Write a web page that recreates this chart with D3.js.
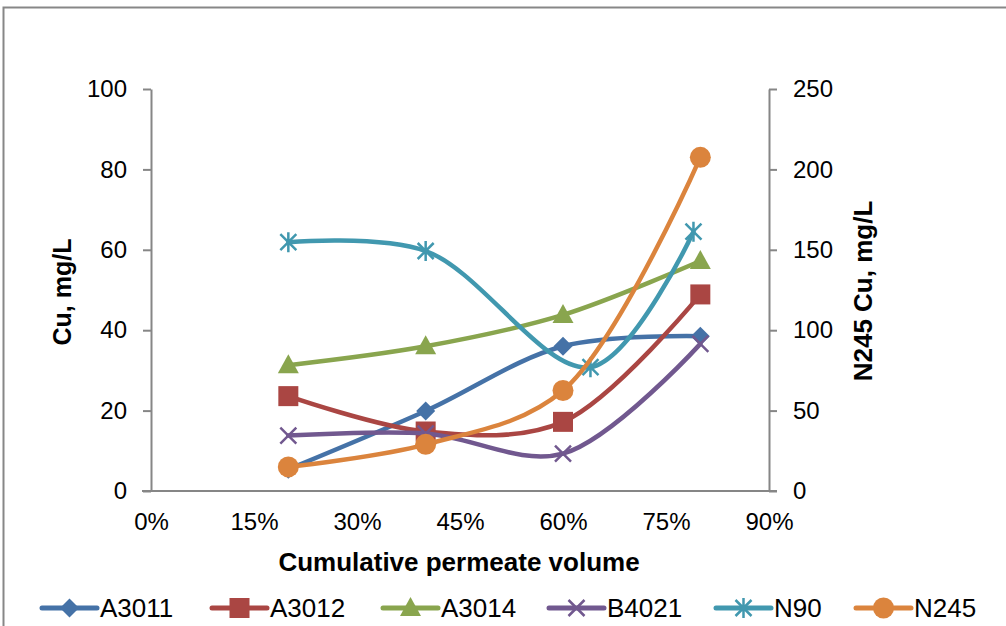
<!DOCTYPE html>
<html><head><meta charset="utf-8">
<script src="https://cdn.jsdelivr.net/npm/d3@7"></script>
<style>body{margin:0;background:#fff}svg{display:block;font-family:"Liberation Sans",Arial,sans-serif}</style>
</head><body><svg id="c" width="1006" height="626"></svg>
<script>
const xTicks = [0, 15, 30, 45, 60, 75, 90];
const yLeftTicks = [0, 20, 40, 60, 80, 100];
const yRightTicks = [0, 50, 100, 150, 200, 250];
const seriesNames = ["A3011", "A3012", "A3014", "B4021", "N90", "N245"];
const xStd = [20, 40, 60, 80];
const xN90 = [20, 40, 64, 79];
const A3011 = [5.4, 19.9, 36.0, 38.5];
const A3012 = [23.6, 14.8, 17.2, 48.9];
const A3014 = [31.3, 36.0, 43.8, 57.2];
const B4021 = [13.8, 14.3, 9.3, 36.6];
const N90 = [61.9, 59.7, 30.8, 64.5];
const N245 = [15.0, 29.0, 62.5, 207.5];

const colors = ["#4572A7", "#AA4643", "#89A54E", "#71588F", "#4198AF", "#DB843D"];
const markers = ["diamond", "square", "triangle", "x", "star", "circle"];
const series = [
  {name: "A3011", xs: xStd, ys: A3011, axis: "L"},
  {name: "A3012", xs: xStd, ys: A3012, axis: "L"},
  {name: "A3014", xs: xStd, ys: A3014, axis: "L"},
  {name: "B4021", xs: xStd, ys: B4021, axis: "L"},
  {name: "N90", xs: xN90, ys: N90, axis: "L"},
  {name: "N245", xs: xStd, ys: N245, axis: "R"}
];

const svg = d3.select("#c");
const L = 151, R = 769, T = 89, B = 491;
const x = d3.scaleLinear().domain([0, 90]).range([L, R]);
const yL = d3.scaleLinear().domain([0, 100]).range([B, T]);
const yR = d3.scaleLinear().domain([0, 250]).range([B, T]);
const axisCol = "#868686";
const FONT = '"Liberation Sans",Arial,sans-serif';

// outer border
svg.append("rect").attr("x", 3.5).attr("y", 7.5).attr("width", 1010).attr("height", 630)
  .attr("fill", "none").attr("stroke", "#878787").attr("stroke-width", 2);

// left axis
const gL = svg.append("g").attr("transform", `translate(${L},0)`)
  .call(d3.axisLeft(yL).tickValues(yLeftTicks).tickSize(8).tickPadding(16).tickSizeOuter(0));
// right axis
const gR = svg.append("g").attr("transform", `translate(${R},0)`)
  .call(d3.axisRight(yR).tickValues(yRightTicks).tickSize(8).tickPadding(16).tickSizeOuter(0));
// bottom axis
const gB = svg.append("g").attr("transform", `translate(0,${B})`)
  .call(d3.axisBottom(x).tickValues(xTicks).tickSize(0).tickPadding(22).tickFormat(d => d + "%"));
[gL, gR, gB].forEach(g => {
  g.selectAll(".domain").attr("stroke", axisCol).attr("stroke-width", 2);
  g.selectAll(".tick line").attr("stroke", axisCol).attr("stroke-width", 2);
  g.selectAll("text").attr("fill", "#000").style("font-size", "24px").style("font-family", FONT);
});
gB.select(".domain").attr("d", `M${L - 9},0H${R + 8}`);

// titles
svg.append("text").attr("x", 459).attr("y", 571).attr("text-anchor", "middle")
  .style("font-size", "26px").style("font-weight", "bold").text("Cumulative permeate volume");
svg.append("text").attr("transform", "translate(71,292) rotate(-90)").attr("text-anchor", "middle")
  .style("font-size", "25px").style("font-weight", "bold").text("Cu, mg/L");
svg.append("text").attr("transform", "translate(872,291) rotate(-90)").attr("text-anchor", "middle")
  .style("font-size", "26px").style("font-weight", "bold").text("N245 Cu, mg/L");

function drawMarker(g, type, cx, cy, col) {
  if (type === "diamond") {
    g.append("path").attr("d", `M${cx},${cy - 9.5}L${cx + 9.5},${cy}L${cx},${cy + 9.5}L${cx - 9.5},${cy}Z`).attr("fill", col);
  } else if (type === "square") {
    g.append("rect").attr("x", cx - 10).attr("y", cy - 10).attr("width", 20).attr("height", 20).attr("fill", col);
  } else if (type === "triangle") {
    g.append("path").attr("d", `M${cx},${cy - 11}L${cx + 10.5},${cy + 8}L${cx - 10.5},${cy + 8}Z`).attr("fill", col);
  } else if (type === "circle") {
    g.append("circle").attr("cx", cx).attr("cy", cy).attr("r", 10.5).attr("fill", col);
  } else if (type === "x") {
    g.append("path").attr("d", `M${cx - 8},${cy - 8}L${cx + 8},${cy + 8}M${cx - 8},${cy + 8}L${cx + 8},${cy - 8}`)
      .attr("stroke", col).attr("stroke-width", 2.5).attr("fill", "none");
  } else if (type === "star") {
    g.append("path").attr("d", `M${cx - 8},${cy - 8}L${cx + 8},${cy + 8}M${cx - 8},${cy + 8}L${cx + 8},${cy - 8}M${cx},${cy - 10}L${cx},${cy + 10}`)
      .attr("stroke", col).attr("stroke-width", 2.5).attr("fill", "none");
  }
}

const plot = svg.append("g");
series.forEach((s, i) => {
  const ys = s.axis === "L" ? yL : yR;
  const pts = s.xs.map((xv, j) => [x(xv), ys(s.ys[j])]);
  const line = d3.line().curve(d3.curveCatmullRom.alpha(0.5));
  plot.append("path").attr("d", line(pts)).attr("fill", "none").attr("stroke", colors[i])
    .attr("stroke-width", 4.5).attr("stroke-linecap", "round");
  pts.forEach(p => drawMarker(plot, markers[i], p[0], p[1], colors[i]));
});

// legend
const legX = [42, 212, 383, 549, 716, 856];
const legY = 608;
seriesNames.forEach((n, i) => {
  const g = svg.append("g");
  g.append("line").attr("x1", legX[i]).attr("x2", legX[i] + 55).attr("y1", legY).attr("y2", legY)
    .attr("stroke", colors[i]).attr("stroke-width", 5).attr("stroke-linecap", "round");
  drawMarker(g, markers[i], legX[i] + 27.5, legY, colors[i]);
  g.append("text").attr("x", legX[i] + 58).attr("y", legY + 9).style("font-size", "26px").text(n);
});
</script></body></html>
